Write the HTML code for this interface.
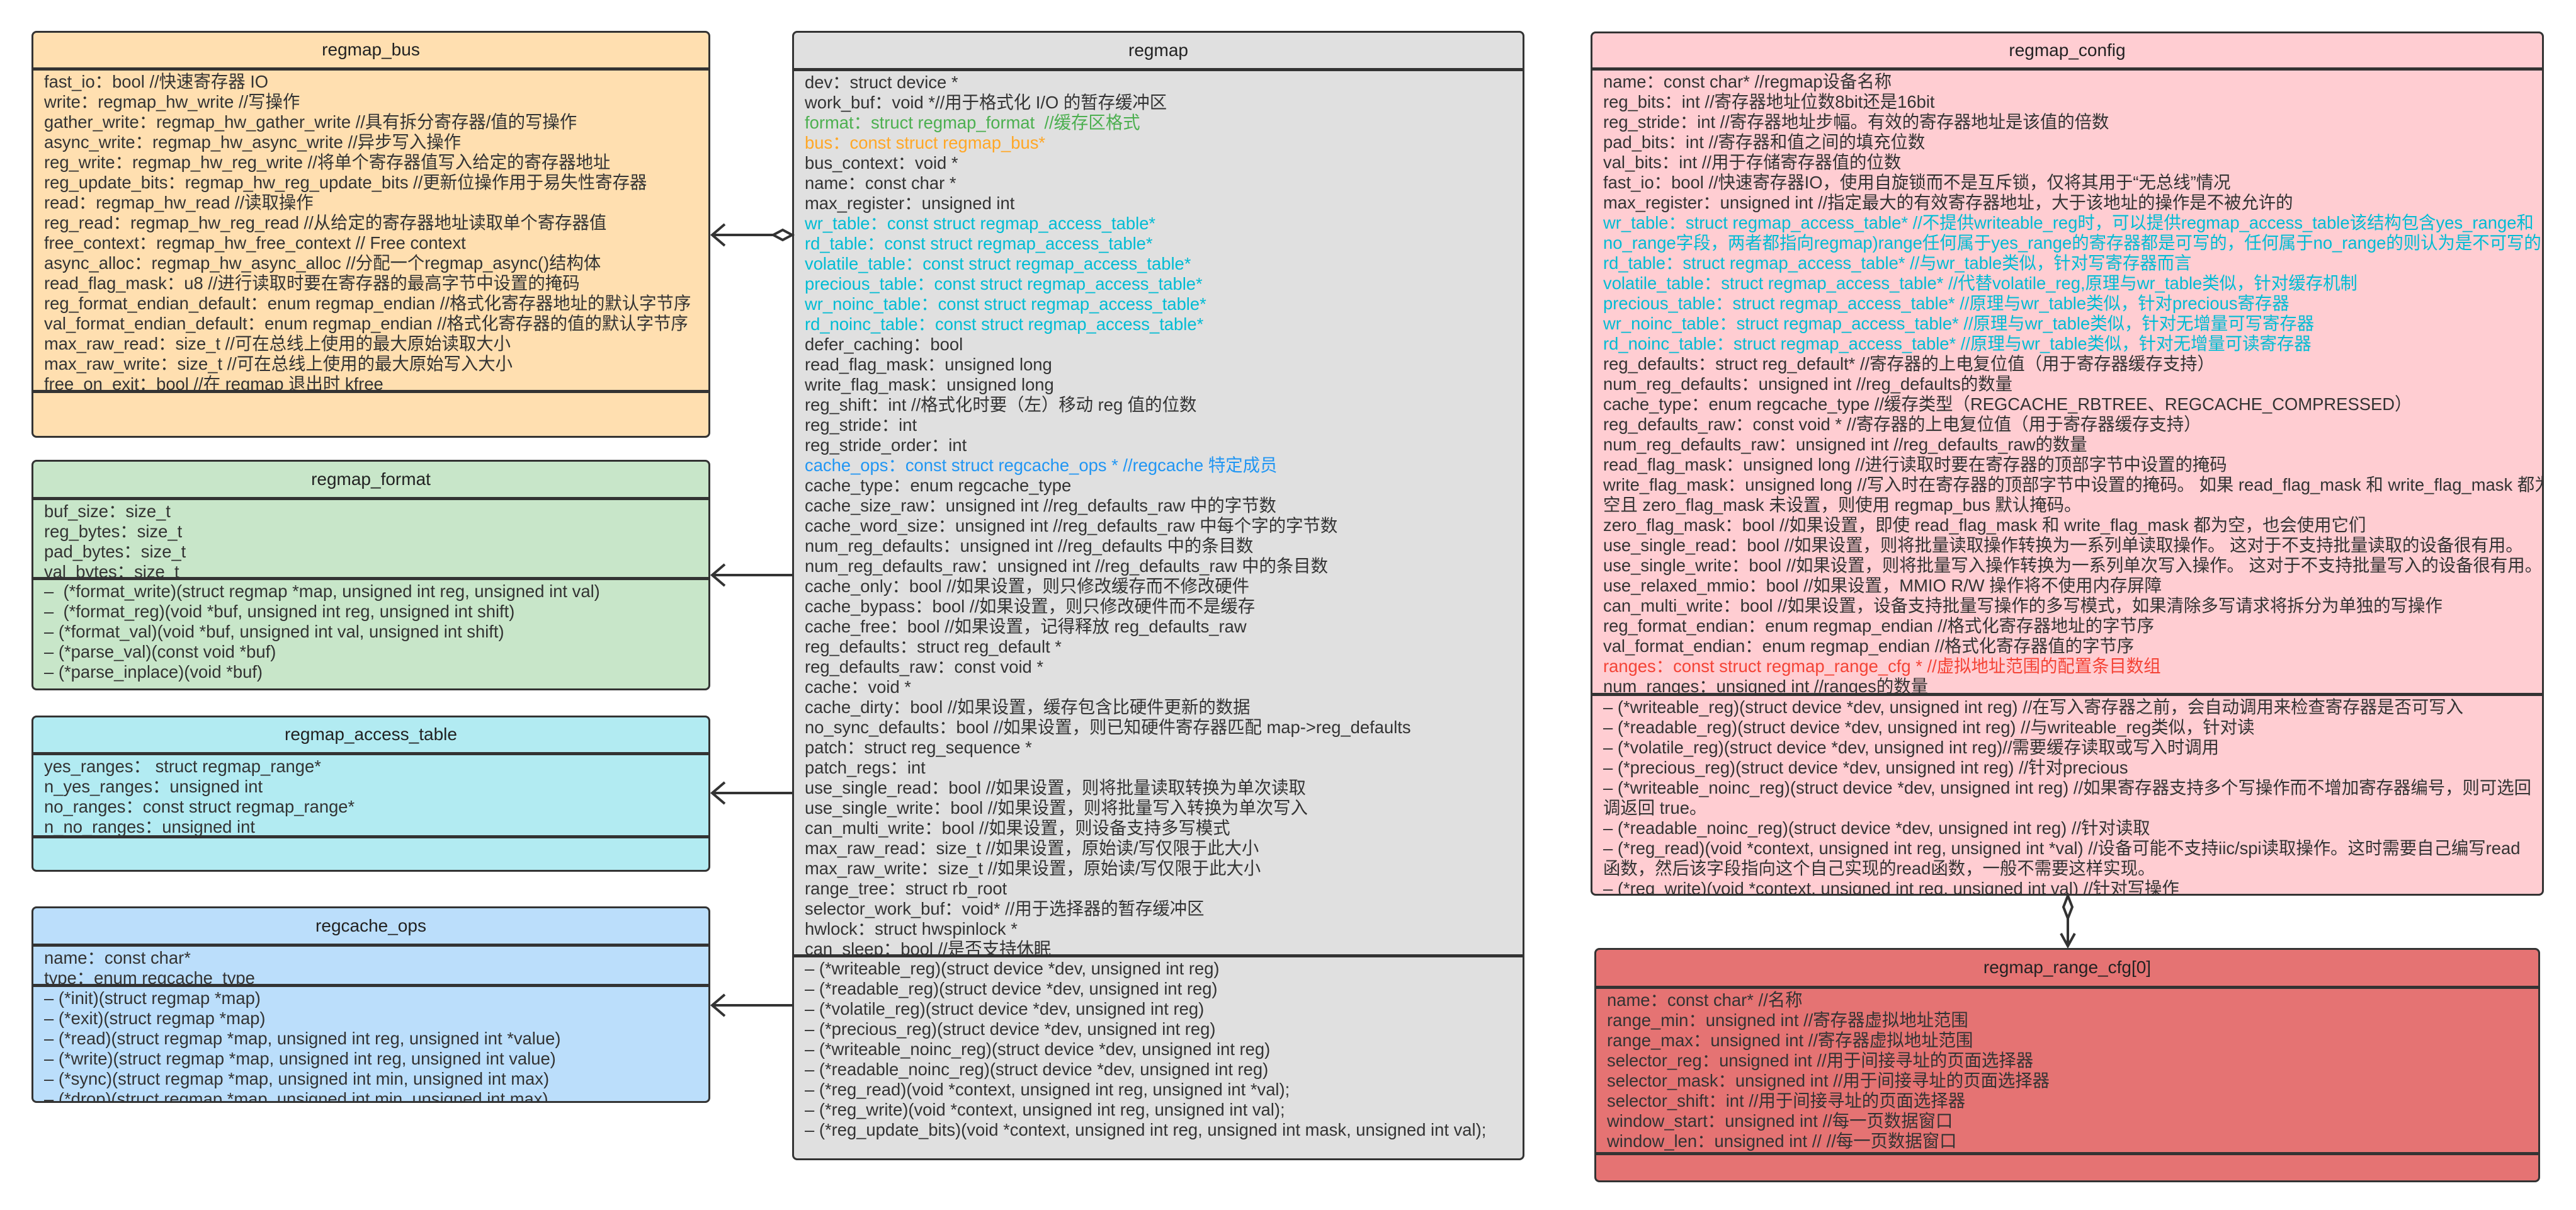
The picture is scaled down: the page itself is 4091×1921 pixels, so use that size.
<!DOCTYPE html>
<html><head><meta charset="utf-8">
<style>
html,body{margin:0;padding:0;background:#fff;}
body{width:4091px;height:1921px;position:relative;overflow:hidden;font-family:"Liberation Sans","Noto Sans CJK SC",sans-serif;color:#333;}
.b{position:absolute;box-sizing:border-box;border:3px solid #333;border-radius:8px;}
.h{position:absolute;text-align:center;font-size:28px;color:#222;}
.d{position:absolute;height:5px;background:#333;}
.t{position:absolute;overflow:hidden;}
.in{transform:scaleX(0.978);transform-origin:0 0;padding-top:3px;}
.l{height:32px;line-height:32px;white-space:nowrap;font-size:28px;}
.g{color:#4caf50}.o{color:#ffa726}.c{color:#00bcd4}.bl{color:#2196f3}.r{color:#f44336}
svg{position:absolute;left:0;top:0;}
</style></head><body>

<!-- regmap_bus -->
<div class="b" style="left:50px;top:49px;width:1078px;height:646px;background:#ffdfb0"></div>
<div class="h" style="left:50px;top:49px;width:1078px;height:60px;line-height:60px;">regmap_bus</div>
<div class="d" style="left:50px;top:107px;width:1078px"></div>
<div class="t" style="left:70px;top:111px;width:1055px;height:508px"><div class="in">
<div class="l">fast_io：bool //快速寄存器 IO</div>
<div class="l">write：regmap_hw_write //写操作</div>
<div class="l">gather_write：regmap_hw_gather_write //具有拆分寄存器/值的写操作</div>
<div class="l">async_write：regmap_hw_async_write //异步写入操作</div>
<div class="l">reg_write：regmap_hw_reg_write //将单个寄存器值写入给定的寄存器地址</div>
<div class="l">reg_update_bits：regmap_hw_reg_update_bits //更新位操作用于易失性寄存器</div>
<div class="l">read：regmap_hw_read //读取操作</div>
<div class="l">reg_read：regmap_hw_reg_read //从给定的寄存器地址读取单个寄存器值</div>
<div class="l">free_context：regmap_hw_free_context // Free context</div>
<div class="l">async_alloc：regmap_hw_async_alloc //分配一个regmap_async()结构体</div>
<div class="l">read_flag_mask：u8 //进行读取时要在寄存器的最高字节中设置的掩码</div>
<div class="l">reg_format_endian_default：enum regmap_endian //格式化寄存器地址的默认字节序</div>
<div class="l">val_format_endian_default：enum regmap_endian //格式化寄存器的值的默认字节序</div>
<div class="l">max_raw_read：size_t //可在总线上使用的最大原始读取大小</div>
<div class="l">max_raw_write：size_t //可在总线上使用的最大原始写入大小</div>
<div class="l">free_on_exit：bool //在 regmap 退出时 kfree</div>
</div></div>
<div class="d" style="left:50px;top:619px;width:1078px"></div>

<!-- regmap_format -->
<div class="b" style="left:50px;top:730px;width:1078px;height:366px;background:#c8e6c9"></div>
<div class="h" style="left:50px;top:730px;width:1078px;height:61px;line-height:61px;">regmap_format</div>
<div class="d" style="left:50px;top:789px;width:1078px"></div>
<div class="t" style="left:70px;top:793px;width:1055px;height:123px"><div class="in">
<div class="l">buf_size：size_t</div>
<div class="l">reg_bytes：size_t</div>
<div class="l">pad_bytes：size_t</div>
<div class="l">val_bytes：size_t</div>
</div></div>
<div class="d" style="left:50px;top:916px;width:1078px"></div>
<div class="t" style="left:70px;top:920px;width:1055px;height:172px"><div class="in">
<div class="l">–&nbsp; (*format_write)(struct regmap *map, unsigned int reg, unsigned int val)</div>
<div class="l">–&nbsp; (*format_reg)(void *buf, unsigned int reg, unsigned int shift)</div>
<div class="l">– (*format_val)(void *buf, unsigned int val, unsigned int shift)</div>
<div class="l">– (*parse_val)(const void *buf)</div>
<div class="l">– (*parse_inplace)(void *buf)</div>
</div></div>

<!-- regmap_access_table -->
<div class="b" style="left:50px;top:1136px;width:1078px;height:248px;background:#b2ebf2"></div>
<div class="h" style="left:50px;top:1136px;width:1078px;height:60px;line-height:60px;">regmap_access_table</div>
<div class="d" style="left:50px;top:1194px;width:1078px"></div>
<div class="t" style="left:70px;top:1198px;width:1055px;height:128px"><div class="in">
<div class="l">yes_ranges：&nbsp;struct regmap_range*</div>
<div class="l">n_yes_ranges：unsigned int</div>
<div class="l">no_ranges：const struct regmap_range*</div>
<div class="l">n_no_ranges：unsigned int</div>
</div></div>
<div class="d" style="left:50px;top:1326px;width:1078px"></div>

<!-- regcache_ops -->
<div class="b" style="left:50px;top:1439px;width:1078px;height:312px;background:#bbdefb"></div>
<div class="h" style="left:50px;top:1439px;width:1078px;height:61px;line-height:61px;">regcache_ops</div>
<div class="d" style="left:50px;top:1498px;width:1078px"></div>
<div class="t" style="left:70px;top:1502px;width:1055px;height:60px"><div class="in">
<div class="l">name：const char*</div>
<div class="l">type：enum regcache_type</div>
</div></div>
<div class="d" style="left:50px;top:1562px;width:1078px"></div>
<div class="t" style="left:70px;top:1566px;width:1055px;height:182px"><div class="in">
<div class="l">– (*init)(struct regmap *map)</div>
<div class="l">– (*exit)(struct regmap *map)</div>
<div class="l">– (*read)(struct regmap *map, unsigned int reg, unsigned int *value)</div>
<div class="l">– (*write)(struct regmap *map, unsigned int reg, unsigned int value)</div>
<div class="l">– (*sync)(struct regmap *map, unsigned int min, unsigned int max)</div>
<div class="l">– (*drop)(struct regmap *map, unsigned int min, unsigned int max)</div>
</div></div>

<!-- regmap -->
<div class="b" style="left:1258px;top:49px;width:1163px;height:1793px;background:#e0e0e0"></div>
<div class="h" style="left:1258px;top:49px;width:1163px;height:61px;line-height:61px;">regmap</div>
<div class="d" style="left:1258px;top:108px;width:1163px"></div>
<div class="t" style="left:1278px;top:112px;width:1140px;height:1403px"><div class="in">
<div class="l">dev：struct device *</div>
<div class="l">work_buf：void *//用于格式化 I/O 的暂存缓冲区</div>
<div class="l g">format：struct regmap_format&nbsp; //缓存区格式</div>
<div class="l o">bus：const struct regmap_bus*</div>
<div class="l">bus_context：void *</div>
<div class="l">name：const char *</div>
<div class="l">max_register：unsigned int</div>
<div class="l c">wr_table：const struct regmap_access_table*</div>
<div class="l c">rd_table：const struct regmap_access_table*</div>
<div class="l c">volatile_table：const struct regmap_access_table*</div>
<div class="l c">precious_table：const struct regmap_access_table*</div>
<div class="l c">wr_noinc_table：const struct regmap_access_table*</div>
<div class="l c">rd_noinc_table：const struct regmap_access_table*</div>
<div class="l">defer_caching：bool</div>
<div class="l">read_flag_mask：unsigned long</div>
<div class="l">write_flag_mask：unsigned long</div>
<div class="l">reg_shift：int //格式化时要（左）移动 reg 值的位数</div>
<div class="l">reg_stride：int</div>
<div class="l">reg_stride_order：int</div>
<div class="l bl">cache_ops：const struct regcache_ops * //regcache 特定成员</div>
<div class="l">cache_type：enum regcache_type</div>
<div class="l">cache_size_raw：unsigned int //reg_defaults_raw 中的字节数</div>
<div class="l">cache_word_size：unsigned int //reg_defaults_raw 中每个字的字节数</div>
<div class="l">num_reg_defaults：unsigned int //reg_defaults 中的条目数</div>
<div class="l">num_reg_defaults_raw：unsigned int //reg_defaults_raw 中的条目数</div>
<div class="l">cache_only：bool //如果设置，则只修改缓存而不修改硬件</div>
<div class="l">cache_bypass：bool //如果设置，则只修改硬件而不是缓存</div>
<div class="l">cache_free：bool //如果设置，记得释放 reg_defaults_raw</div>
<div class="l">reg_defaults：struct reg_default *</div>
<div class="l">reg_defaults_raw：const void *</div>
<div class="l">cache：void *</div>
<div class="l">cache_dirty：bool //如果设置，缓存包含比硬件更新的数据</div>
<div class="l">no_sync_defaults：bool //如果设置，则已知硬件寄存器匹配 map-&gt;reg_defaults</div>
<div class="l">patch：struct reg_sequence *</div>
<div class="l">patch_regs：int</div>
<div class="l">use_single_read：bool //如果设置，则将批量读取转换为单次读取</div>
<div class="l">use_single_write：bool //如果设置，则将批量写入转换为单次写入</div>
<div class="l">can_multi_write：bool //如果设置，则设备支持多写模式</div>
<div class="l">max_raw_read：size_t //如果设置，原始读/写仅限于此大小</div>
<div class="l">max_raw_write：size_t //如果设置，原始读/写仅限于此大小</div>
<div class="l">range_tree：struct rb_root</div>
<div class="l">selector_work_buf：void* //用于选择器的暂存缓冲区</div>
<div class="l">hwlock：struct hwspinlock *</div>
<div class="l">can_sleep：bool //是否支持休眠</div>
</div></div>
<div class="d" style="left:1258px;top:1515px;width:1163px"></div>
<div class="t" style="left:1278px;top:1519px;width:1140px;height:320px"><div class="in">
<div class="l">– (*writeable_reg)(struct device *dev, unsigned int reg)</div>
<div class="l">– (*readable_reg)(struct device *dev, unsigned int reg)</div>
<div class="l">– (*volatile_reg)(struct device *dev, unsigned int reg)</div>
<div class="l">– (*precious_reg)(struct device *dev, unsigned int reg)</div>
<div class="l">– (*writeable_noinc_reg)(struct device *dev, unsigned int reg)</div>
<div class="l">– (*readable_noinc_reg)(struct device *dev, unsigned int reg)</div>
<div class="l">– (*reg_read)(void *context, unsigned int reg, unsigned int *val);</div>
<div class="l">– (*reg_write)(void *context, unsigned int reg, unsigned int val);</div>
<div class="l">– (*reg_update_bits)(void *context, unsigned int reg, unsigned int mask, unsigned int val);</div>
</div></div>

<!-- regmap_config -->
<div class="b" style="left:2526px;top:50px;width:1514px;height:1372px;background:#ffcdd2"></div>
<div class="h" style="left:2526px;top:50px;width:1514px;height:59px;line-height:59px;">regmap_config</div>
<div class="d" style="left:2526px;top:107px;width:1514px"></div>
<div class="t" style="left:2546px;top:111px;width:1491px;height:989px"><div class="in">
<div class="l">name：const char* //regmap设备名称</div>
<div class="l">reg_bits：int //寄存器地址位数8bit还是16bit</div>
<div class="l">reg_stride：int //寄存器地址步幅。有效的寄存器地址是该值的倍数</div>
<div class="l">pad_bits：int //寄存器和值之间的填充位数</div>
<div class="l">val_bits：int //用于存储寄存器值的位数</div>
<div class="l">fast_io：bool //快速寄存器IO，使用自旋锁而不是互斥锁，仅将其用于“无总线”情况</div>
<div class="l">max_register：unsigned int //指定最大的有效寄存器地址，大于该地址的操作是不被允许的</div>
<div class="l c">wr_table：struct regmap_access_table* //不提供writeable_reg时，可以提供regmap_access_table该结构包含yes_range和</div>
<div class="l c">no_range字段，两者都指向regmap)range任何属于yes_range的寄存器都是可写的，任何属于no_range的则认为是不可写的</div>
<div class="l c">rd_table：struct regmap_access_table* //与wr_table类似，针对写寄存器而言</div>
<div class="l c">volatile_table：struct regmap_access_table* //代替volatile_reg,原理与wr_table类似，针对缓存机制</div>
<div class="l c">precious_table：struct regmap_access_table* //原理与wr_table类似，针对precious寄存器</div>
<div class="l c">wr_noinc_table：struct regmap_access_table* //原理与wr_table类似，针对无增量可写寄存器</div>
<div class="l c">rd_noinc_table：struct regmap_access_table* //原理与wr_table类似，针对无增量可读寄存器</div>
<div class="l">reg_defaults：struct reg_default* //寄存器的上电复位值（用于寄存器缓存支持）</div>
<div class="l">num_reg_defaults：unsigned int //reg_defaults的数量</div>
<div class="l">cache_type：enum regcache_type //缓存类型（REGCACHE_RBTREE、REGCACHE_COMPRESSED）</div>
<div class="l">reg_defaults_raw：const void * //寄存器的上电复位值（用于寄存器缓存支持）</div>
<div class="l">num_reg_defaults_raw：unsigned int //reg_defaults_raw的数量</div>
<div class="l">read_flag_mask：unsigned long //进行读取时要在寄存器的顶部字节中设置的掩码</div>
<div class="l">write_flag_mask：unsigned long //写入时在寄存器的顶部字节中设置的掩码。 如果 read_flag_mask 和 write_flag_mask 都为</div>
<div class="l">空且 zero_flag_mask 未设置，则使用 regmap_bus 默认掩码。</div>
<div class="l">zero_flag_mask：bool //如果设置，即使 read_flag_mask 和 write_flag_mask 都为空，也会使用它们</div>
<div class="l">use_single_read：bool //如果设置，则将批量读取操作转换为一系列单读取操作。 这对于不支持批量读取的设备很有用。</div>
<div class="l">use_single_write：bool //如果设置，则将批量写入操作转换为一系列单次写入操作。 这对于不支持批量写入的设备很有用。</div>
<div class="l">use_relaxed_mmio：bool //如果设置，MMIO R/W 操作将不使用内存屏障</div>
<div class="l">can_multi_write：bool //如果设置，设备支持批量写操作的多写模式，如果清除多写请求将拆分为单独的写操作</div>
<div class="l">reg_format_endian：enum regmap_endian //格式化寄存器地址的字节序</div>
<div class="l">val_format_endian：enum regmap_endian //格式化寄存器值的字节序</div>
<div class="l r">ranges：const struct regmap_range_cfg * //虚拟地址范围的配置条目数组</div>
<div class="l">num_ranges：unsigned int //ranges的数量</div>
</div></div>
<div class="d" style="left:2526px;top:1100px;width:1514px"></div>
<div class="t" style="left:2546px;top:1104px;width:1491px;height:315px"><div class="in">
<div class="l">– (*writeable_reg)(struct device *dev, unsigned int reg) //在写入寄存器之前，会自动调用来检查寄存器是否可写入</div>
<div class="l">– (*readable_reg)(struct device *dev, unsigned int reg) //与writeable_reg类似，针对读</div>
<div class="l">– (*volatile_reg)(struct device *dev, unsigned int reg)//需要缓存读取或写入时调用</div>
<div class="l">– (*precious_reg)(struct device *dev, unsigned int reg) //针对precious</div>
<div class="l">– (*writeable_noinc_reg)(struct device *dev, unsigned int reg) //如果寄存器支持多个写操作而不增加寄存器编号，则可选回</div>
<div class="l">调返回 true。</div>
<div class="l">– (*readable_noinc_reg)(struct device *dev, unsigned int reg) //针对读取</div>
<div class="l">– (*reg_read)(void *context, unsigned int reg, unsigned int *val) //设备可能不支持iic/spi读取操作。这时需要自己编写read</div>
<div class="l">函数，然后该字段指向这个自己实现的read函数，一般不需要这样实现。</div>
<div class="l">– (*reg_write)(void *context, unsigned int reg, unsigned int val) //针对写操作</div>
</div></div>

<!-- regmap_range_cfg -->
<div class="b" style="left:2532px;top:1505px;width:1502px;height:372px;background:#e57373"></div>
<div class="h" style="left:2532px;top:1505px;width:1502px;height:62px;line-height:62px;">regmap_range_cfg[0]</div>
<div class="d" style="left:2532px;top:1565px;width:1502px"></div>
<div class="t" style="left:2552px;top:1569px;width:1479px;height:260px"><div class="in">
<div class="l">name：const char* //名称</div>
<div class="l">range_min：unsigned int //寄存器虚拟地址范围</div>
<div class="l">range_max：unsigned int //寄存器虚拟地址范围</div>
<div class="l">selector_reg：unsigned int //用于间接寻址的页面选择器</div>
<div class="l">selector_mask：unsigned int //用于间接寻址的页面选择器</div>
<div class="l">selector_shift：int //用于间接寻址的页面选择器</div>
<div class="l">window_start：unsigned int //每一页数据窗口</div>
<div class="l">window_len：unsigned int // //每一页数据窗口</div>
</div></div>
<div class="d" style="left:2532px;top:1829px;width:1502px"></div>

<svg width="4091" height="1921" viewBox="0 0 4091 1921">
 <g stroke="#333" stroke-width="4" fill="none">
  <line x1="1228" y1="373" x2="1131" y2="373"/>
  <polyline points="1151,356 1131,373 1151,390"/>
  <line x1="1258" y1="913" x2="1131" y2="913"/>
  <polyline points="1151,896 1131,913 1151,930"/>
  <line x1="1258" y1="1259" x2="1131" y2="1259"/>
  <polyline points="1151,1242 1131,1259 1151,1276"/>
  <line x1="1258" y1="1596" x2="1131" y2="1596"/>
  <polyline points="1151,1579 1131,1596 1151,1613"/>
  <line x1="3284" y1="1458" x2="3284" y2="1502"/>
  <polyline points="3273,1482 3284,1502 3295,1482"/>
 </g>
 <polygon points="1258,373 1243,365 1228,373 1243,381" fill="#fff" stroke="#333" stroke-width="4"/>
 <polygon points="3284,1422 3277,1440 3284,1458 3291,1440" fill="#fff" stroke="#333" stroke-width="4"/>
</svg>
</body></html>
